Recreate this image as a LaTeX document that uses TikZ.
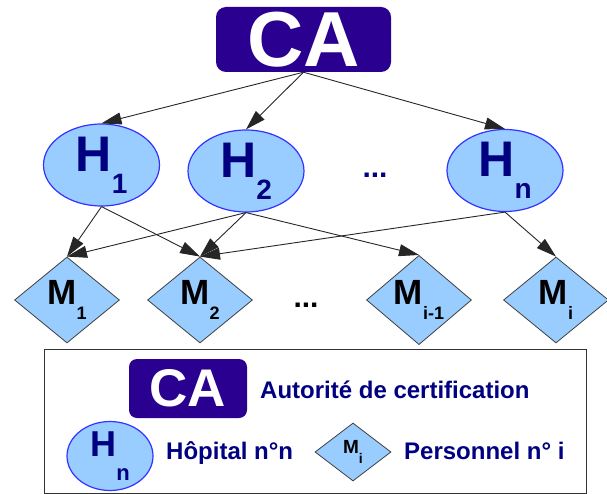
\documentclass[tikz,border=0pt]{standalone}
\usepackage{fontspec}
\setmainfont{Liberation Sans}
\usetikzlibrary{shapes.geometric,arrows.meta}

\definecolor{caviolet}{RGB}{42,0,144}
\definecolor{bleuclair}{RGB}{153,204,255}
\definecolor{bleutrait}{RGB}{51,51,255}
\definecolor{marine}{RGB}{0,0,128}

% lettre, indice, taille, taille indice, descente
\newcommand{\etiq}[5]{{\fontsize{#3}{#3}\selectfont #1}\raisebox{-#5pt}{\fontsize{#4}{#4}\selectfont #2}}

\begin{document}
\begin{tikzpicture}[x=1pt, y=-1pt, font=\bfseries,
  >={Triangle[length=20pt,width=12pt]},
  ca/.style={rectangle, rounded corners=10pt, fill=caviolet, text=white, inner sep=0pt},
  hop/.style={ellipse, draw=bleutrait, line width=1.2pt, fill=bleuclair, text=marine,
    inner sep=0pt, minimum width=116pt, minimum height=82pt},
  pers/.style={diamond, draw=black!75, line width=0.8pt, fill=bleuclair, text=black,
    inner sep=0pt, minimum width=105pt, minimum height=86pt},
  lien/.style={->, line width=0.9pt, black!85}]

\useasboundingbox (0,0) rectangle (607,494);

% Autorite de certification
\node[ca, minimum width=175pt, minimum height=65pt, font={\bfseries\fontsize{78}{78}\selectfont}] (CA) at (303.5,39.5) {CA};

% Hopitaux
\node[hop] (H1) at (101.5,165) {\etiq{H}{1}{50}{28}{22}};
\node[hop] (H2) at (246,171) {\etiq{H}{2}{50}{28}{22}};
\node[hop] (Hn) at (505,170.5) {\etiq{H}{n}{50}{28}{22}};
\node[text=marine, inner sep=0pt, font={\bfseries\fontsize{30}{30}\selectfont}] (pH) at (375,175) {...};

% Personnel
\node[pers] (M1) at (67,300) {\etiq{M}{1}{35}{18}{15}};
\node[pers] (M2) at (200,300) {\etiq{M}{2}{35}{18}{15}};
\node[pers] (Mi1) at (419,300) {\etiq{M}{i-1}{35}{18}{15}};
\node[pers] (Mi) at (556,300) {\etiq{M}{i}{35}{18}{15}};
\node[inner sep=0pt, font={\bfseries\fontsize{30}{30}\selectfont}] (pM) at (306,305) {...};

% Liens
\draw[lien] (CA.south) -- (H1.north);
\draw[lien] (CA.south) -- (H2.north);
\draw[lien] (CA.south) -- (Hn.north);

\draw[lien] (H1.south) -- (M1.north);
\draw[lien] (H1.south) -- (M2.north);
\draw[lien] (H2.south) -- (M1.north);
\draw[lien] (H2.south) -- (M2.north);
\draw[lien] (H2.south) -- (Mi1.north);
\draw[lien] (Hn.south) -- (M2.north);
\draw[lien] (Hn.south) -- (Mi.north);

% Legende
\draw[black!80, line width=1pt] (44,349) rectangle (586,493);
\node[ca, rounded corners=8pt, minimum width=118pt, minimum height=59pt, font={\bfseries\fontsize{53}{53}\selectfont}] (CAleg) at (188,388.5) {CA};
\node[anchor=base west, inner sep=0pt, text=marine, font={\bfseries\fontsize{24}{24}\selectfont}] (tCA) at (260,398) {Autorité de certification};
\node[hop, minimum width=86pt, minimum height=62pt] (Hleg) at (110,456) {\etiq{H}{n}{36}{22}{24}};
\node[anchor=base west, inner sep=0pt, text=marine, font={\bfseries\fontsize{24}{24}\selectfont}] (tH) at (166,459) {Hôpital n°n};
\node[pers, minimum width=76pt, minimum height=58pt] (Mleg) at (353,452) {\etiq{M}{i}{19}{14}{10}};
\node[anchor=base west, inner sep=0pt, text=marine, font={\bfseries\fontsize{24}{24}\selectfont}] (tM) at (404,459) {Personnel n° i};
\end{tikzpicture}
\end{document}
